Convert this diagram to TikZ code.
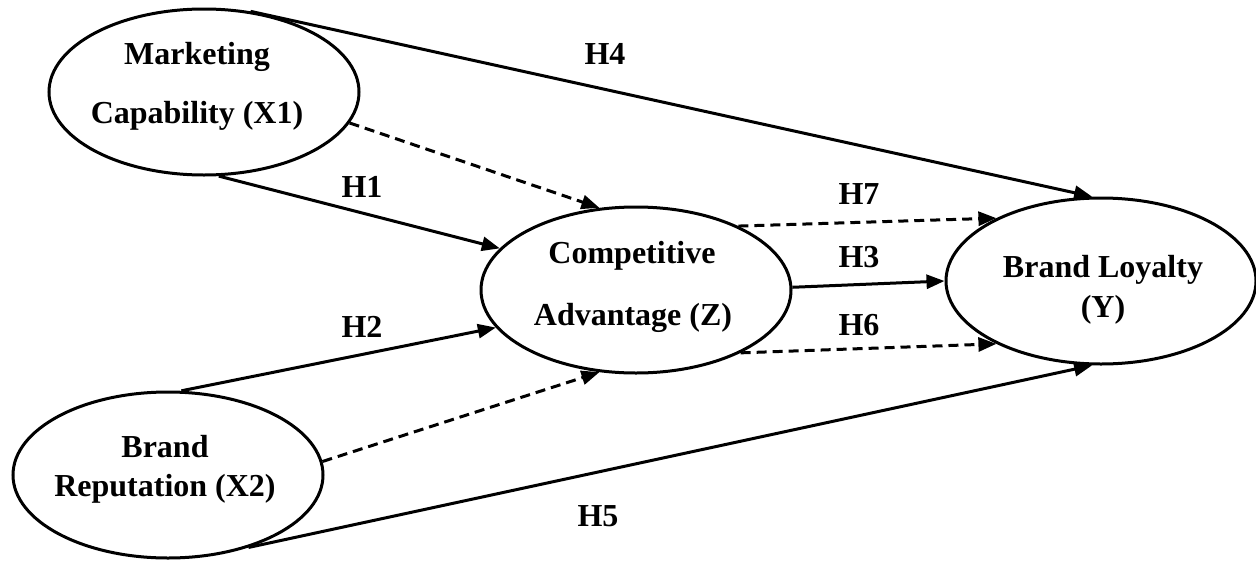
\documentclass[tikz,border=0pt]{standalone}
\usepackage{fontspec}
\setmainfont{Liberation Serif}
\usetikzlibrary{shapes.geometric,arrows.meta}
\begin{document}
\begin{tikzpicture}[x=1pt,y=-1pt,
  latent/.style={draw,ellipse,line width=3pt,inner sep=0pt,minimum width=310pt,minimum height=166pt},
  txt/.style={font=\fontsize{32}{38}\selectfont\bfseries,anchor=base,inner sep=0pt},
  conn/.style={line width=3pt,-{Triangle[length=18pt,width=14pt]}},
  dconn/.style={conn,dash pattern=on 10pt off 6pt}]
\useasboundingbox (0,0) rectangle (1256,560);
% latent variables
\node[latent] (X1) at (204,92) {};
\node[latent] (X2) at (168,475) {};
\node[latent] (Z) at (636,290) {};
\node[latent] (Y) at (1101,281) {};
% texts
\node[txt] (x1a) at (197,64) {Marketing};
\node[txt] (x1b) at (197,123) {Capability (X1)};
\node[txt] (x2a) at (165,457) {Brand};
\node[txt] (x2b) at (165,496) {Reputation (X2)};
\node[txt] (za) at (632,263) {Competitive};
\node[txt] (zb) at (633,325) {Advantage (Z)};
\node[txt] (ya) at (1103,277) {Brand Loyalty};
\node[txt] (yb) at (1103,317) {(Y)};
% connectors
\draw[conn] (X1.60.7) -- (Y.96);
\draw[dconn] (X1.-12.4) -- (Z.114.6);
\draw[conn] (X1.-80.4) -- (Z.163.1);
\draw[conn] (X2.81.9) -- (Z.195.8);
\draw[dconn] (X2.5.2) -- (Z.246.6);
\draw[conn] (X2.-42) -- (Y.264);
\draw[dconn] (Z.32.5) -- (Y.149.2);
\draw[conn] (Z.1.8) -- (Y.180.4);
\draw[dconn] (Z.-31.2) -- (Y.211.5);
% labels
\node[txt] (h4) at (605,64) {H4};
\node[txt] (h1) at (362,197) {H1};
\node[txt] (h2) at (362,337) {H2};
\node[txt] (h7) at (859,204) {H7};
\node[txt] (h3) at (859,267) {H3};
\node[txt] (h6) at (859,335) {H6};
\node[txt] (h5) at (598,526) {H5};
\end{tikzpicture}
\end{document}
